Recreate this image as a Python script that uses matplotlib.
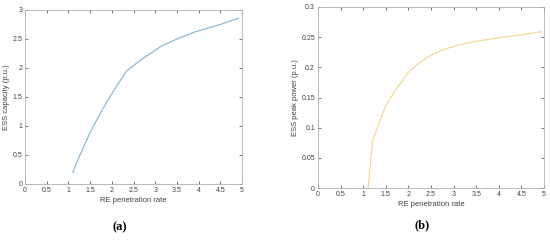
import numpy as np
import matplotlib.pyplot as plt

# data
re_rate_a = [1.1, 1.25, 1.5, 1.75, 2.0, 2.34, 2.65, 3.15, 3.5, 3.95, 4.5, 4.92]
ess_capacity = [0.2, 0.47, 0.89, 1.24, 1.56, 1.95, 2.13, 2.38, 2.5, 2.63, 2.75, 2.86]

re_rate_b = [1.11, 1.21, 1.44, 1.5, 1.66, 2.0, 2.25, 2.5, 2.8, 3.15, 3.5, 4.0, 4.5, 4.95]
ess_peak = [0.0, 0.078, 0.125, 0.136, 0.156, 0.192, 0.208, 0.22, 0.23, 0.238, 0.243, 0.249, 0.254, 0.259]

xticks = np.arange(0, 5.01, 0.5)
xticklabels = ['0', '0.5', '1', '1.5', '2', '2.5', '3', '3.5', '4', '4.5', '5']

plt.rcParams['font.family'] = ['Liberation Sans', 'DejaVu Sans']
txt = '#404040'
edge = '#b0b0b0'

fig = plt.figure(figsize=(5.5, 2.42), dpi=100)
ax1 = fig.add_axes([0.0455, 0.2397, 0.3945, 0.719])
ax2 = fig.add_axes([0.578, 0.2231, 0.411, 0.748])


def style(ax, yticks, yticklabels, ylabel):
    ax.set_xlim(0, 5)
    ax.set_xticks(xticks)
    ax.set_xticklabels(xticklabels)
    ax.set_yticks(yticks)
    ax.set_yticklabels(yticklabels)
    ax.set_xlabel('RE penetration rate', fontsize=5.5, color=txt, labelpad=2)
    ax.set_ylabel(ylabel, fontsize=5.5, color=txt, labelpad=2)
    ax.tick_params(direction='in', length=2, width=0.5, labelsize=5, colors=txt,
                   top=True, right=True, pad=2)
    for s in ax.spines.values():
        s.set_color(edge)
        s.set_linewidth(0.6)
    for t in ax.get_xticklines() + ax.get_yticklines():
        t.set_color(edge)


ax1.plot(re_rate_a, ess_capacity, color='#7ab4d4', lw=0.8)
ax1.set_ylim(0, 3)
style(ax1, np.arange(0, 3.01, 0.5), ['0', '0.5', '1', '1.5', '2', '2.5', '3'], 'ESS capacity (p.u.)')

ax2.plot(re_rate_b, ess_peak, color='#f2d58a', lw=0.8)
ax2.set_ylim(0, 0.3)
style(ax2, np.arange(0, 0.301, 0.05), ['0', '0.05', '0.1', '0.15', '0.2', '0.25', '0.3'], 'ESS peak power (p.u.)')

fig.text(0.218, 0.05, '(a)', fontsize=9, fontweight='bold', family='Liberation Serif', ha='center')
fig.text(0.767, 0.055, '(b)', fontsize=9, fontweight='bold', family='Liberation Serif', ha='center')

fig.savefig('out.png', dpi=100)
